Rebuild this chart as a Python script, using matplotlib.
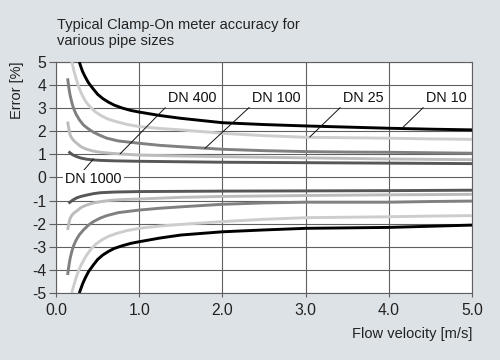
import numpy as np
import matplotlib
matplotlib.use("Agg")
import matplotlib.pyplot as plt

plt.rcParams['font.family'] = ['Liberation Sans', 'DejaVu Sans']
plt.rcParams['font.size'] = 10
plt.rcParams['axes.unicode_minus'] = False

# Values (error band per pipe size)
v_dn10 = [0.28, 0.30, 0.32, 0.35, 0.39, 0.45, 0.50, 0.56, 0.63, 0.70, 0.80, 0.90, 1.0, 1.25, 1.5, 2.0, 2.5, 3.0, 3.5, 4.0, 4.5, 5.0]
up_dn10 = [5.0, 4.78, 4.58, 4.36, 4.1, 3.82, 3.6, 3.42, 3.26, 3.13, 3.0, 2.9, 2.83, 2.68, 2.56, 2.37, 2.29, 2.23, 2.18, 2.13, 2.09, 2.06]
lo_dn10 = [-5.0, -4.8, -4.6, -4.36, -4.08, -3.78, -3.55, -3.36, -3.2, -3.07, -2.95, -2.85, -2.78, -2.62, -2.49, -2.35, -2.27, -2.2, -2.18, -2.16, -2.11, -2.06]

v_dn25 = [0.19, 0.20, 0.22, 0.24, 0.27, 0.30, 0.33, 0.37, 0.42, 0.48, 0.55, 0.63, 0.72, 0.85, 1.0, 1.25, 1.5, 2.0, 2.5, 3.0, 3.5, 4.0, 4.5, 5.0]
up_dn25 = [5.0, 4.85, 4.55, 4.3, 3.95, 3.68, 3.45, 3.22, 3.02, 2.82, 2.66, 2.52, 2.42, 2.3, 2.2, 2.12, 2.06, 1.91, 1.81, 1.74, 1.72, 1.70, 1.67, 1.65]
lo_dn25 = [-5.0, -4.85, -4.6, -4.35, -4.05, -3.8, -3.6, -3.35, -3.1, -2.88, -2.7, -2.55, -2.43, -2.3, -2.2, -2.1, -2.03, -1.91, -1.81, -1.74, -1.72, -1.7, -1.67, -1.65]

v_dn100 = [0.14, 0.15, 0.16, 0.17, 0.19, 0.21, 0.24, 0.28, 0.33, 0.39, 0.45, 0.53, 0.61, 0.75, 1.0, 1.25, 1.5, 2.0, 2.5, 3.0, 3.5, 4.0, 4.5, 5.0]
up_dn100 = [4.29, 4.0, 3.75, 3.55, 3.25, 3.0, 2.75, 2.5, 2.27, 2.1, 1.96, 1.82, 1.7, 1.58, 1.48, 1.39, 1.33, 1.22, 1.16, 1.12, 1.1, 1.09, 1.07, 1.05]
lo_dn100 = [-4.22, -3.95, -3.7, -3.5, -3.2, -2.97, -2.72, -2.48, -2.27, -2.06, -1.91, -1.76, -1.65, -1.52, -1.41, -1.33, -1.27, -1.16, -1.1, -1.07, -1.07, -1.07, -1.04, -1.02]

v_dn400 = [0.14, 0.15, 0.16, 0.17, 0.19, 0.22, 0.25, 0.3, 0.37, 0.45, 0.53, 0.65, 0.77, 1.0, 1.5, 2.0, 3.0, 4.0, 5.0]
up_dn400 = [2.42, 2.2, 2.0, 1.84, 1.7, 1.57, 1.48, 1.33, 1.22, 1.14, 1.09, 1.05, 1.02, 0.97, 0.93, 0.9, 0.85, 0.8, 0.77]
lo_dn400 = [-2.27, -2.07, -1.9, -1.77, -1.64, -1.52, -1.45, -1.3, -1.19, -1.1, -1.05, -0.99, -0.96, -0.93, -0.86, -0.82, -0.78, -0.75, -0.73]

v_dn1000 = [0.15, 0.2, 0.25, 0.3, 0.37, 0.45, 0.53, 0.7, 1.0, 1.5, 2.0, 3.0, 4.0, 5.0]
up_dn1000 = [1.12, 0.98, 0.9, 0.84, 0.79, 0.76, 0.74, 0.72, 0.7, 0.68, 0.66, 0.64, 0.62, 0.6]
lo_dn1000 = [-1.12, -0.98, -0.88, -0.82, -0.76, -0.7, -0.66, -0.63, -0.61, -0.6, -0.59, -0.58, -0.57, -0.55]

labels = ['DN 10', 'DN 25', 'DN 100', 'DN 400', 'DN 1000']
colors = ['#000000', '#cdcdcd', '#808080', '#bcbcbc', '#575757']
series = [(v_dn10, up_dn10, lo_dn10), (v_dn25, up_dn25, lo_dn25),
          (v_dn100, up_dn100, lo_dn100), (v_dn400, up_dn400, lo_dn400),
          (v_dn1000, up_dn1000, lo_dn1000)]

# where each leader line touches its curve, and where its label sits
label_points = [(4.17, 2.17), (3.05, 1.75), (1.79, 1.26), (0.77, 1.02), (0.45, 0.8)]
label_pos = [(4.447, 3.27), (3.45, 3.27), (2.356, 3.27), (1.346, 3.27), (0.108, -0.26)]

bg = '#dde2e6'
fig = plt.figure(figsize=(5, 3.6), dpi=100, facecolor=bg)
ax = fig.add_axes([0.112, 0.186, 0.832, 0.642])
ax.set_facecolor('white')

for (v, up, lo), c in zip(series[::-1], colors[::-1]):
    ax.plot(v, up, color=c, lw=2.1, solid_capstyle='butt', solid_joinstyle='round', zorder=3)
    ax.plot(v, lo, color=c, lw=2.1, solid_capstyle='butt', solid_joinstyle='round', zorder=3)

for lab, pt, pos in zip(labels, label_points, label_pos):
    kw = {}
    if lab == 'DN 1000':
        kw['bbox'] = dict(boxstyle='square,pad=0.15', fc='white', ec='none')
        rel = (0.3, 1.0)
    else:
        rel = (0.0, 0.0)
    ax.annotate(lab, xy=pt, xytext=pos, ha='left', va='baseline', fontsize=10.4,
                color='#111111', zorder=5,
                arrowprops=dict(arrowstyle='-', color='#111111', lw=0.7,
                                shrinkA=0, shrinkB=0, relpos=rel), **kw)

ax.set_xlim(0, 5)
ax.set_ylim(-5, 5)
ax.set_xticks(np.arange(0, 5.01, 1.0))
ax.set_xticklabels([f'{x:.1f}' for x in np.arange(0, 5.01, 1.0)])
ax.set_yticks(np.arange(-5, 6, 1))
ax.grid(True, color='#606060', lw=0.8, zorder=1)
ax.set_axisbelow(True)
for s in ax.spines.values():
    s.set_color('#606060')
    s.set_linewidth(0.8)
ax.tick_params(axis='both', colors='#606060', labelcolor='#222222', labelsize=11.3)
ax.tick_params(axis='y', length=5, width=0.8, pad=2)
ax.tick_params(axis='x', length=3, width=0.8, pad=4)

ax.set_xlabel('Flow velocity [m/s]', fontsize=10.5, color='#222222', loc='right', labelpad=7)
ax.set_ylabel('Error [%]', fontsize=10.5, color='#222222', loc='top', labelpad=6)

fig.text(0.114, 1 - 18 / 360, 'Typical Clamp-On meter accuracy for\nvarious pipe sizes',
         ha='left', va='top', fontsize=10.5, color='#222222', linespacing=1.2)

fig.savefig('out.png', dpi=100, facecolor=bg)
